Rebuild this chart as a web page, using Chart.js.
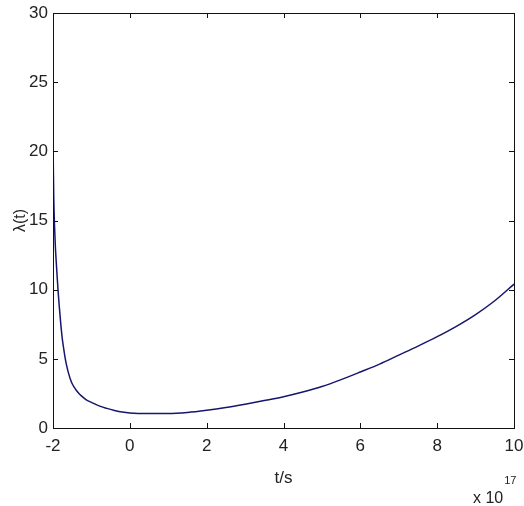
<!DOCTYPE html>
<html>
<head>
<meta charset="utf-8">
<script src="https://cdn.jsdelivr.net/npm/chart.js@4"></script>
<style>
html,body{margin:0;padding:0;background:#fff;}
#wrap{width:524px;height:506px;position:relative;}
</style>
</head>
<body>
<div id="wrap"><canvas id="c" width="524" height="506"></canvas></div>
<script>
// t in units of 1e17 s
const tValues = [-2.00,-1.99,-1.98,-1.96,-1.94,-1.92,-1.90,-1.87,-1.84,-1.80,-1.76,-1.72,-1.68,-1.64,-1.60,-1.55,-1.50,-1.45,-1.40,-1.30,-1.20,-1.10,-1.00,-0.80,-0.60,-0.40,-0.20,0.00,0.50,1.00,1.50,2.00,2.50,3.00,3.50,4.00,4.50,5.00,5.50,6.00,6.50,7.00,7.50,8.00,8.50,9.00,9.50,10.00];
const lambdaValues = [21.0,18.5,16.6,14.6,13.2,12.2,11.3,10.0,8.9,7.6,6.5,5.7,5.0,4.45,4.0,3.55,3.2,2.95,2.75,2.42,2.18,1.98,1.85,1.60,1.42,1.27,1.15,1.08,1.04,1.04,1.12,1.28,1.48,1.72,1.98,2.26,2.60,3.00,3.50,4.05,4.62,5.27,5.92,6.60,7.35,8.20,9.20,10.40];
const xTicks = [-2,0,2,4,6,8,10];
const yTicks = [0,5,10,15,20,25,30];
const xTitle = 't/s';
const yTitle = 'λ(t)';
const expBase = 'x 10';
const expPower = '17';

const FONT = '"Liberation Sans",Arial,sans-serif';
const TXT = '#222';

const points = tValues.map((t,i)=>({x:t,y:lambdaValues[i]}));

const framePlugin = {
  id:'frame',
  afterDraw(chart){
    const {ctx, chartArea:a, scales:{x,y}} = chart;
    ctx.save();
    ctx.strokeStyle = '#111';
    ctx.lineWidth = 1;
    ctx.strokeRect(Math.round(a.left)+0.5, Math.round(a.top)+0.5, Math.round(a.right-a.left), Math.round(a.bottom-a.top));
    const L = 5;
    ctx.beginPath();
    xTicks.forEach(v=>{
      const px = Math.round(x.getPixelForValue(v))+0.5;
      ctx.moveTo(px,a.bottom); ctx.lineTo(px,a.bottom-L);
      ctx.moveTo(px,a.top); ctx.lineTo(px,a.top+L);
    });
    yTicks.forEach(v=>{
      const py = Math.round(y.getPixelForValue(v))+0.5;
      ctx.moveTo(a.left,py); ctx.lineTo(a.left+L,py);
      ctx.moveTo(a.right,py); ctx.lineTo(a.right-L,py);
    });
    ctx.stroke();
    ctx.fillStyle = TXT;
    ctx.textBaseline = 'alphabetic';
    ctx.textAlign = 'left';
    ctx.font = '16px ' + FONT;
    ctx.fillText(expBase, 473, 503);
    const w = ctx.measureText(expBase).width;
    ctx.font = '11px ' + FONT;
    ctx.fillText(expPower, 473 + w + 1, 484);
    ctx.restore();
  }
};

new Chart(document.getElementById('c'), {
  type:'line',
  data:{datasets:[{
    data:points,
    borderColor:'#16166e',
    borderWidth:1.5,
    pointRadius:0,
    fill:false,
    cubicInterpolationMode:'monotone'
  }]},
  options:{
    responsive:false,
    animation:false,
    events:[],
    layout:{padding:{left:0,right:10,top:13,bottom:0}},
    plugins:{legend:{display:false},tooltip:{enabled:false}},
    scales:{
      x:{
        type:'linear', min:-2, max:10,
        afterBuildTicks(s){ s.ticks = xTicks.map(v=>({value:v})); },
        afterFit(s){ s.height = 78; s.paddingLeft = 0; s.paddingRight = 0; },
        grid:{display:false, drawTicks:false},
        border:{display:false},
        ticks:{color:TXT, font:{family:FONT,size:17}, padding:8, maxRotation:0, autoSkip:false},
        title:{display:true, text:xTitle, color:TXT, font:{family:FONT,size:17}, padding:{top:0,bottom:17}}
      },
      y:{
        type:'linear', min:0, max:30,
        afterBuildTicks(s){ s.ticks = yTicks.map(v=>({value:v})); },
        afterFit(s){ s.width = 53; s.paddingTop = 0; s.paddingBottom = 0; },
        grid:{display:false, drawTicks:false},
        border:{display:false},
        ticks:{color:TXT, font:{family:FONT,size:17}, padding:5, autoSkip:false},
        title:{display:true, text:yTitle, color:TXT, font:{family:FONT,size:16}, padding:{top:11,bottom:0}}
      }
    }
  },
  plugins:[framePlugin]
});
</script>
</body>
</html>
